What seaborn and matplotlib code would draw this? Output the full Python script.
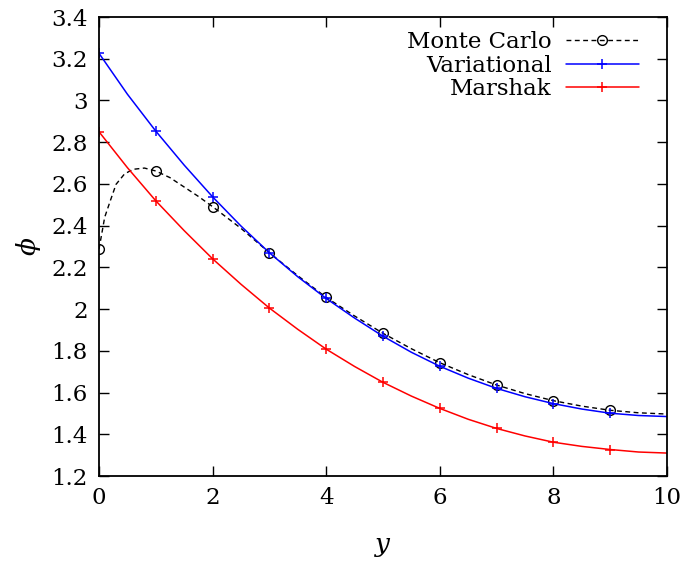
import numpy as np
import pandas as pd
import seaborn as sns
import matplotlib.pyplot as plt

# values
x_mc = [0, 0.05, 0.1, 0.2, 0.3, 0.45, 0.6, 0.8, 1, 1.25, 1.5, 1.75, 2, 2.5, 3,
        3.5, 4, 4.5, 5, 5.5, 6, 6.5, 7, 7.5, 8, 8.5, 9, 9.5, 10]
phi_mc = [2.288, 2.363, 2.440, 2.520, 2.598, 2.648, 2.670, 2.676, 2.662, 2.630,
          2.585, 2.540, 2.491, 2.387, 2.270, 2.160, 2.056, 1.967, 1.884, 1.810,
          1.743, 1.686, 1.636, 1.595, 1.561, 1.535, 1.515, 1.503, 1.497]

x_th = [0, 0.5, 1, 1.5, 2, 2.5, 3, 3.5, 4, 4.5, 5, 5.5, 6, 6.5, 7, 7.5, 8, 8.5,
        9, 9.5, 10]
phi_var = [3.226, 3.030, 2.853, 2.690, 2.538, 2.398, 2.270, 2.155, 2.051, 1.957,
           1.870, 1.793, 1.726, 1.669, 1.620, 1.580, 1.547, 1.521, 1.501, 1.490, 1.485]
phi_mar = [2.850, 2.678, 2.519, 2.376, 2.241, 2.119, 2.005, 1.903, 1.808, 1.725,
           1.649, 1.583, 1.524, 1.472, 1.428, 1.392, 1.362, 1.342, 1.327, 1.315, 1.310]

df_mc = pd.DataFrame({'y': x_mc, 'phi': phi_mc})
df_th = pd.DataFrame({'y': x_th, 'var': phi_var, 'mar': phi_mar})

sns.set_style('ticks')
plt.rcParams['font.family'] = ['DejaVu Serif']
plt.rcParams['mathtext.fontset'] = 'dejavuserif'
plt.rcParams['text.color'] = 'black'
plt.rcParams['axes.labelcolor'] = 'black'

fig = plt.figure(figsize=(6.87, 5.63), dpi=100)
ax = fig.add_axes([0.1441, 0.1545, 0.8268, 0.8153])

# markers only at the integer points 0..9
mc_marks = [i for i, v in enumerate(x_mc) if float(v).is_integer() and v < 10]
th_marks = [i for i, v in enumerate(x_th) if float(v).is_integer() and v < 10]

sns.lineplot(data=df_mc, x='y', y='phi', ax=ax, color='black', linestyle=(0, (3.5, 2.5)),
             linewidth=1.0, marker='o', markersize=7, markerfacecolor='none',
             markeredgecolor='black', markeredgewidth=1.0, markevery=mc_marks,
             label='Monte Carlo')
sns.lineplot(data=df_th, x='y', y='var', ax=ax, color='#0000ff', linewidth=1.1,
             marker='+', markersize=7.5, markeredgecolor='#0000ff', markeredgewidth=1.1,
             markevery=th_marks, label='Variational')
sns.lineplot(data=df_th, x='y', y='mar', ax=ax, color='#ff0000', linewidth=1.1,
             marker='+', markersize=7.5, markeredgecolor='#ff0000', markeredgewidth=1.1,
             markevery=th_marks, label='Marshak')

ax.set_xlim(0, 10)
ax.set_ylim(1.2, 3.4)
ax.set_xticks([0, 2, 4, 6, 8, 10])
yt = [1.2, 1.4, 1.6, 1.8, 2.0, 2.2, 2.4, 2.6, 2.8, 3.0, 3.2, 3.4]
ax.set_yticks(yt)
ax.set_yticklabels(['%g' % v for v in yt])
ax.tick_params(direction='in', length=7, width=1.0, top=True, right=True,
               labelsize=16.5, pad=8, colors='black')
for s in ax.spines.values():
    s.set_visible(True)
    s.set_linewidth(1.3)
    s.set_color('black')

ax.set_xlabel(r'$y$', fontsize=19, labelpad=18)
ax.set_ylabel(r'$\phi$', fontsize=19, labelpad=6)

ax.legend(loc='upper right', frameon=False, markerfirst=False, fontsize=16.5,
          handlelength=3.2, handletextpad=0.6, labelspacing=0.08,
          borderaxespad=0.2, bbox_to_anchor=(0.975, 1.0), labelcolor='black')

fig.savefig('out.png', dpi=100)
